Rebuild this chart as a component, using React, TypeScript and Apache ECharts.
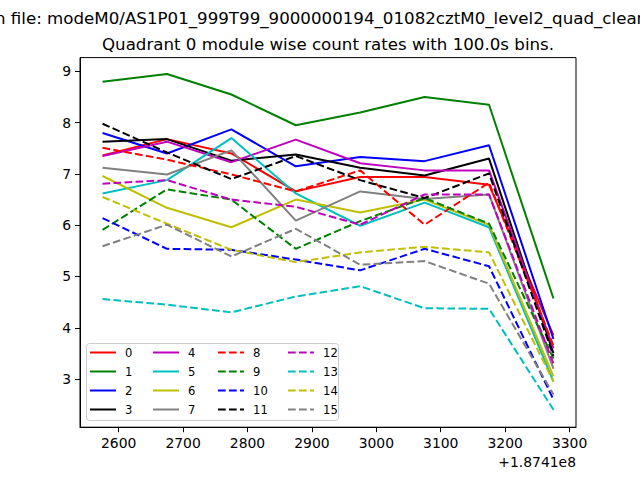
import React, { useEffect, useRef } from "react";
import * as echarts from "echarts";

const times = [2575, 2675, 2775, 2875, 2975, 3075, 3175, 3275];
const xTicks = [2600, 2700, 2800, 2900, 3000, 3100, 3200, 3300];
const yTicks = [3, 4, 5, 6, 7, 8, 9];

const m0 = [7.36, 7.68, 7.4, 6.66, 6.94, 6.94, 6.79, 3.85];
const m1 = [8.8, 8.95, 8.55, 7.95, 8.2, 8.5, 8.35, 4.57];
const m2 = [7.8, 7.4, 7.87, 7.15, 7.33, 7.25, 7.56, 3.78];
const m3 = [7.63, 7.68, 7.26, 7.38, 7.12, 6.97, 7.3, 3.5];
const m4 = [7.35, 7.63, 7.23, 7.67, 7.21, 7.07, 7.07, 3.6];
const m5 = [6.62, 6.88, 7.7, 6.62, 5.99, 6.44, 5.96, 2.95];
const m6 = [6.96, 6.34, 5.96, 6.5, 6.25, 6.5, 6.01, 3.05];
const m7 = [7.12, 6.99, 7.46, 6.09, 6.66, 6.51, 6.6, 3.2];
const m8 = [7.51, 7.28, 6.99, 6.66, 7.07, 6.01, 6.83, 3.65];
const m9 = [5.91, 6.7, 6.5, 5.54, 6.08, 6.53, 6.03, 3.4];
const m10 = [6.14, 5.54, 5.52, 5.33, 5.12, 5.54, 5.2, 2.6];
const m11 = [7.98, 7.42, 6.9, 7.35, 6.88, 6.53, 7.01, 3.45];
const m12 = [6.81, 6.88, 6.5, 6.36, 6.01, 6.6, 6.6, 3.3];
const m13 = [4.56, 4.45, 4.3, 4.61, 4.81, 4.38, 4.37, 2.4];
const m14 = [6.55, 6.03, 5.52, 5.28, 5.47, 5.58, 5.47, 2.95];
const m15 = [5.59, 6.01, 5.39, 5.93, 5.23, 5.3, 4.86, 2.7];

const modules = [m0, m1, m2, m3, m4, m5, m6, m7, m8, m9, m10, m11, m12, m13, m14, m15];
const names = modules.map((_, i) => String(i));
const colors = ["#ff0000", "#008000", "#0000ff", "#000000", "#bf00bf", "#00bfbf", "#bfbf00", "#808080"];

const suptitle = "n file: modeM0/AS1P01_999T99_9000000194_01082cztM0_level2_quad_clean";
const title = "Quadrant 0 module wise count rates with 100.0s bins.";
const offsetText = "+1.8741e8";

const FONT = "DejaVu Sans";

export default function App() {
  const ref = useRef<HTMLDivElement>(null);
  useEffect(() => {
    if (!ref.current) return;
    const chart = echarts.init(ref.current, undefined, { renderer: "svg" });
    const series = modules.map((vals, i) => ({
      name: names[i],
      type: "line",
      data: vals.map((v, j) => [times[j], v]),
      symbol: "none",
      showSymbol: false,
      z: 2,
      lineStyle: {
        color: colors[i % 8],
        width: 2,
        type: i < 8 ? "solid" : [7.7, 3.3],
        cap: "butt",
      },
      itemStyle: { color: colors[i % 8] },
    }));
    const legendCols = [89, 152, 217, 287];
    const legends = legendCols.map((left, c) => ({
      data: names.slice(c * 4, c * 4 + 4),
      orient: "vertical",
      left,
      top: 345.5,
      padding: 0,
      itemWidth: 26,
      itemHeight: 14,
      itemGap: 5,
      selectedMode: false,
      itemStyle: { opacity: 0, borderWidth: 0 },
      textStyle: {
        fontFamily: FONT,
        fontSize: 11.6,
        color: "#000",
        lineHeight: 14,
        padding: [0, 0, 0, 4],
      },
    }));
    chart.setOption({
      animation: false,
      backgroundColor: "#ffffff",
      grid: {
        left: 80,
        right: 64,
        top: 57.6,
        bottom: 52.8,
        show: true,
        borderColor: "#000",
        borderWidth: 1,
        backgroundColor: "transparent",
        outerBoundsMode: "none",
      },
      xAxis: {
        type: "value",
        min: 2540,
        max: 3310,
        axisLine: { show: true, onZero: false, lineStyle: { color: "#000", width: 1 } },
        axisTick: { show: true, customValues: xTicks, length: 5, lineStyle: { color: "#000" } },
        axisLabel: {
          customValues: xTicks,
          formatter: (v: number) => String(v),
          margin: 9,
          fontFamily: FONT,
          fontSize: 13.9,
          color: "#000",
        },
        splitLine: { show: false },
      },
      yAxis: {
        type: "value",
        min: 2.06,
        max: 9.27,
        axisLine: { show: true, onZero: false, lineStyle: { color: "#000", width: 1 } },
        axisTick: { show: true, customValues: yTicks, length: 5, lineStyle: { color: "#000" } },
        axisLabel: {
          customValues: yTicks,
          formatter: (v: number) => String(v),
          margin: 9,
          fontFamily: FONT,
          fontSize: 13.9,
          color: "#000",
        },
        splitLine: { show: false },
      },
      legend: legends,
      graphic: [
        {
          type: "rect",
          z: 3,
          shape: { x: 86.5, y: 343.5, width: 252, height: 77, r: 3 },
          style: { fill: "rgba(255,255,255,0.8)", stroke: "#cccccc", lineWidth: 1 },
        },
        {
          type: "text",
          x: -5,
          y: 18,
          style: {
            text: suptitle,
            fontFamily: FONT,
            fontSize: 16.67,
            fill: "#000",
            textAlign: "left",
            textVerticalAlign: "middle",
          },
        },
        {
          type: "text",
          x: 328,
          y: 44,
          style: {
            text: title,
            fontFamily: FONT,
            fontSize: 16.67,
            fill: "#000",
            textAlign: "center",
            textVerticalAlign: "middle",
          },
        },
        {
          type: "text",
          x: 576,
          y: 462,
          style: {
            text: offsetText,
            fontFamily: FONT,
            fontSize: 13.9,
            fill: "#000",
            textAlign: "right",
            textVerticalAlign: "middle",
          },
        },
      ],
      series,
    });
    return () => chart.dispose();
  }, []);
  return (
    <div
      ref={ref}
      style={{ position: "fixed", left: 0, top: 0, width: 640, height: 480 }}
    />
  );
}
